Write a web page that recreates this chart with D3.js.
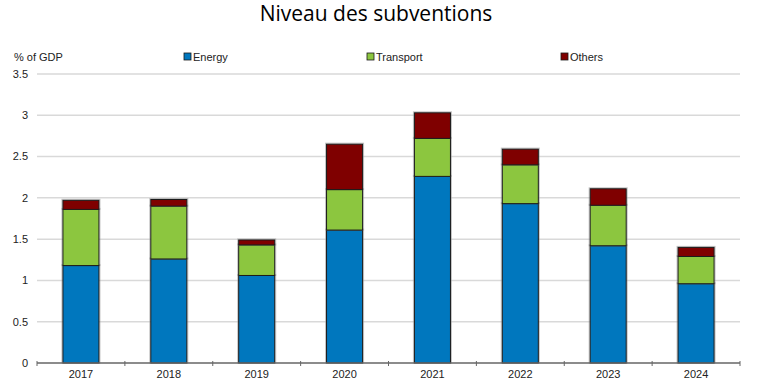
<!DOCTYPE html>
<html>
<head>
<meta charset="utf-8">
<script src="https://cdn.jsdelivr.net/npm/d3@7"></script>
<style>
  body { margin: 0; background: #fff; }
  text { font-family: "Liberation Sans", Arial, sans-serif; fill: #222; }
</style>
</head>
<body>
<div id="chart"></div>
<script>
'use strict'

// data, % of GDP
const years = ['2017', '2018', '2019', '2020', '2021', '2022', '2023', '2024']
const energy = [1.18, 1.26, 1.06, 1.61, 2.26, 1.93, 1.42, 0.96]
const transport = [0.68, 0.64, 0.37, 0.49, 0.46, 0.47, 0.49, 0.33]
const others = [0.11, 0.08, 0.06, 0.55, 0.31, 0.19, 0.20, 0.11]
const seriesNames = ['Energy', 'Transport', 'Others']
const yTicks = [0, 0.5, 1, 1.5, 2, 2.5, 3, 3.5]

const colors = ['#0077be', '#8cc63f', '#7f0000']

const svgWidth = 757
const svgHeight = 391
const margin = { left: 37, right: 17, top: 74, bottom: 28 }
const width = svgWidth - margin.left - margin.right
const height = svgHeight - margin.top - margin.bottom

const svg = d3.select('#chart')
    .append('svg')
    .attr('width', svgWidth)
    .attr('height', svgHeight)

const g = svg.append('g')
    .attr('transform', `translate(${margin.left},${margin.top})`)

const x = d3.scaleBand()
    .domain(years)
    .range([0, width])
    .paddingInner(0.59)
    .paddingOuter(0.295)

const y = d3.scaleLinear()
    .domain([0, 3.5])
    .range([height, 0])

// gridlines
g.append('g')
    .selectAll('line')
    .data(yTicks.filter(d => d > 0))
    .join('line')
    .attr('x1', 0)
    .attr('x2', width)
    .attr('y1', d => y(d))
    .attr('y2', d => y(d))
    .attr('stroke', '#d9d9d9')
    .attr('stroke-width', 1.5)

// y tick labels
g.append('g')
    .selectAll('text')
    .data(yTicks)
    .join('text')
    .attr('x', -9)
    .attr('y', d => y(d))
    .attr('dy', '0.35em')
    .attr('text-anchor', 'end')
    .style('font-size', '11px')
    .text(d => d)

// stacked data
const table = years.map((yr, i) => ({ year: yr, Energy: energy[i], Transport: transport[i], Others: others[i] }))
const stack = d3.stack().keys(seriesNames)(table)

const layers = g.append('g')
    .selectAll('g')
    .data(stack)
    .join('g')
    .attr('fill', (d, i) => colors[i])

// soft grey halo behind each segment
layers.selectAll('rect.halo')
    .data(d => d)
    .join('rect')
    .attr('class', 'halo')
    .attr('x', d => x(d.data.year) - 1)
    .attr('y', d => y(d[1]) - 1)
    .attr('width', x.bandwidth() + 2)
    .attr('height', d => y(d[0]) - y(d[1]) + 1)
    .attr('fill', 'none')
    .attr('stroke', '#999')
    .attr('stroke-opacity', 0.6)
    .attr('stroke-width', 1)

layers.selectAll('rect.seg')
    .data(d => d)
    .join('rect')
    .attr('class', 'seg')
    .attr('x', d => x(d.data.year))
    .attr('y', d => y(d[1]))
    .attr('width', x.bandwidth())
    .attr('height', d => y(d[0]) - y(d[1]))
    .attr('stroke', '#1a1a1a')
    .attr('stroke-width', 1)

// x axis
const xAxis = g.append('g')
    .attr('transform', `translate(0,${height})`)

xAxis.append('line')
    .attr('x1', 0)
    .attr('x2', width)
    .attr('stroke', '#666')
    .attr('stroke-width', 1.5)

const step = x.step()
xAxis.selectAll('line.tick')
    .data(d3.range(years.length + 1))
    .join('line')
    .attr('class', 'tick')
    .attr('x1', i => i * step)
    .attr('x2', i => i * step)
    .attr('y1', -2)
    .attr('y2', 3)
    .attr('stroke', '#666')

xAxis.selectAll('text')
    .data(years)
    .join('text')
    .attr('x', d => x(d) + x.bandwidth() / 2)
    .attr('y', 15)
    .attr('text-anchor', 'middle')
    .style('font-size', '11px')
    .text(d => d)

// title
svg.append('text')
    .attr('x', 376)
    .attr('y', 21)
    .attr('text-anchor', 'middle')
    .style('font-family', '"Open Sans", sans-serif')
    .style('font-size', '21px')
    .style('fill', '#000')
    .text('Niveau des subventions')

// unit label
svg.append('text')
    .attr('x', 14)
    .attr('y', 61)
    .style('font-size', '11px')
    .text('% of GDP')

// legend
const legendX = [184, 367, 561]
const legend = svg.append('g')
    .selectAll('g')
    .data(seriesNames)
    .join('g')
    .attr('transform', (d, i) => `translate(${legendX[i]},53)`)

legend.append('rect')
    .attr('width', 7)
    .attr('height', 7)
    .attr('fill', (d, i) => colors[i])
    .attr('stroke', '#1a1a1a')
    .attr('stroke-width', 0.8)

legend.append('text')
    .attr('x', 9)
    .attr('y', 8)
    .style('font-size', '11px')
    .text(d => d)
</script>
</body>
</html>
